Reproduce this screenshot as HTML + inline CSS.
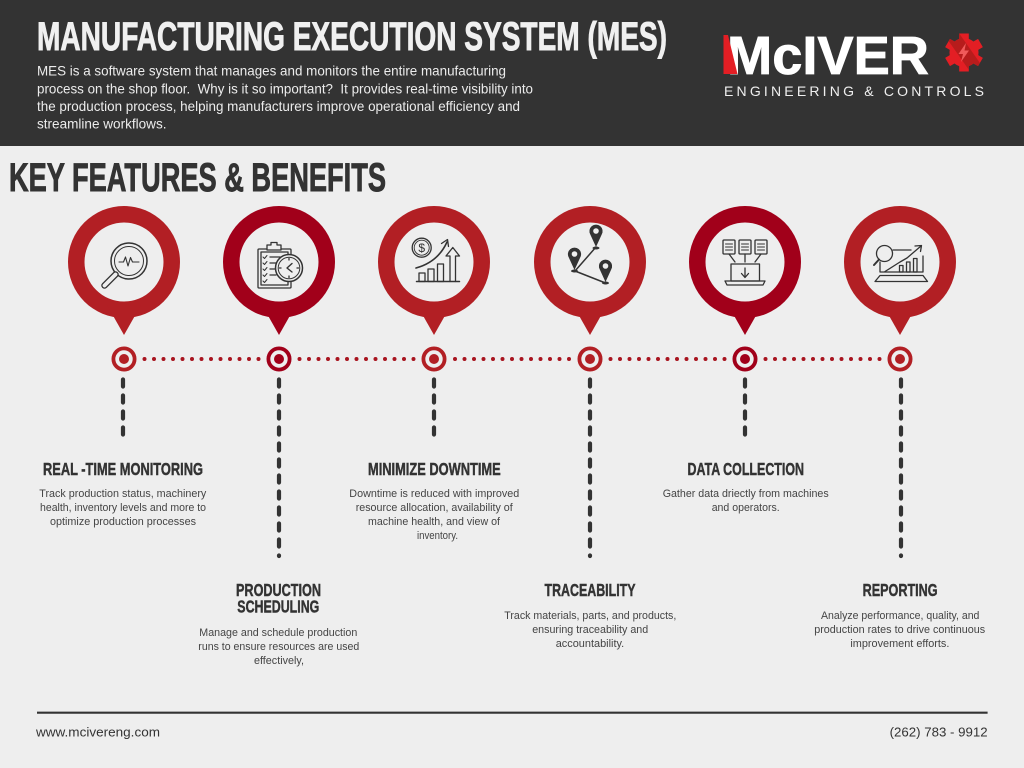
<!DOCTYPE html>
<html>
<head>
<meta charset="utf-8">
<style>
html,body{margin:0;padding:0;background:#eeeeee;}
svg{display:block;}
.h{font-family:"Liberation Sans Narrow","Liberation Sans","DejaVu Sans Condensed",sans-serif;font-weight:bold;}
.b{font-family:"Liberation Sans","DejaVu Sans",sans-serif;}
.t{font-family:"Liberation Sans Narrow","Liberation Sans",sans-serif;font-weight:bold;font-size:17.5px;fill:#333;stroke:#333;stroke-width:0.45;}
.d{font-family:"Liberation Sans","DejaVu Sans",sans-serif;font-size:11px;fill:#444;}
.ic{fill:none;stroke:#333;stroke-width:1.3;stroke-linecap:round;stroke-linejoin:round;}
</style>
</head>
<body>
<svg width="1024" height="768" viewBox="0 0 1024 768" xmlns="http://www.w3.org/2000/svg">
<rect x="0" y="0" width="1024" height="768" fill="#eeeeee"/>
<!-- Header -->
<rect x="0" y="0" width="1024" height="146" fill="#333333"/>
<text class="h" x="37" y="50" font-size="40" fill="#f0f0f0" stroke="#f0f0f0" stroke-width="0.9" textLength="630" lengthAdjust="spacingAndGlyphs">MANUFACTURING EXECUTION SYSTEM (MES)</text>
<g class="b" font-size="14" fill="#ececec">
<text x="37" y="75.5" textLength="469" lengthAdjust="spacingAndGlyphs">MES is a software system that manages and monitors the entire manufacturing</text>
<text x="37" y="93.3" textLength="496" lengthAdjust="spacingAndGlyphs" xml:space="preserve">process on the shop floor.  Why is it so important?  It provides real-time visibility into</text>
<text x="37" y="111" textLength="483" lengthAdjust="spacingAndGlyphs">the production process, helping manufacturers improve operational efficiency and</text>
<text x="37" y="128.7" textLength="129.5" lengthAdjust="spacingAndGlyphs">streamline workflows.</text>
</g>
<!-- Logo -->
<text x="727" y="74" font-family="Liberation Sans, sans-serif" font-weight="bold" font-size="53.5" fill="#ffffff" stroke="#ffffff" stroke-width="0.8" textLength="202" lengthAdjust="spacingAndGlyphs">McIVER</text>
<polygon points="723.5,35 728,35 737.5,74 723.5,74" fill="#e31e24"/>
<text x="724" y="96" font-family="Liberation Sans, sans-serif" font-size="14" fill="#efefef" textLength="260" lengthAdjust="spacing">ENGINEERING &amp; CONTROLS</text>
<defs>
<clipPath id="gc">
<circle cx="964" cy="52.5" r="14.5"/>
<rect x="-4.8" y="-19" width="9.6" height="8.5" transform="translate(964 52.5)"/>
<rect x="-4.8" y="-19" width="9.6" height="8.5" transform="translate(964 52.5) rotate(60)"/>
<rect x="-4.8" y="-19" width="9.6" height="8.5" transform="translate(964 52.5) rotate(120)"/>
<rect x="-4.8" y="-19" width="9.6" height="8.5" transform="translate(964 52.5) rotate(180)"/>
<rect x="-4.8" y="-19" width="9.6" height="8.5" transform="translate(964 52.5) rotate(240)"/>
<rect x="-4.8" y="-19" width="9.6" height="8.5" transform="translate(964 52.5) rotate(300)"/>
</clipPath>
</defs>
<g clip-path="url(#gc)">
<rect x="940" y="30" width="50" height="46" fill="#e31e24"/>
<rect x="958" y="26" width="13" height="56" fill="#b71c1c" transform="rotate(-35 964 52.5)"/>
</g>
<polygon points="966,43 958.5,54 963,54 961,62 969,50.5 964.5,50.5" fill="#f15a5a"/>

<!-- Section title -->
<text class="h" x="9" y="191" font-size="40" fill="#333" stroke="#333" stroke-width="0.9" textLength="377" lengthAdjust="spacingAndGlyphs">KEY FEATURES &amp; BENEFITS</text>

<!-- Pins -->
<g>
<circle cx="124" cy="262" r="56" fill="#b21f24"/><polygon points="107,305 141,305 124,335" fill="#b21f24"/><circle cx="124" cy="262" r="39.5" fill="#eeeeee"/>
<circle cx="279" cy="262" r="56" fill="#a1001a"/><polygon points="262,305 296,305 279,335" fill="#a1001a"/><circle cx="279" cy="262" r="39.5" fill="#eeeeee"/>
<circle cx="434" cy="262" r="56" fill="#b21f24"/><polygon points="417,305 451,305 434,335" fill="#b21f24"/><circle cx="434" cy="262" r="39.5" fill="#eeeeee"/>
<circle cx="590" cy="262" r="56" fill="#b21f24"/><polygon points="573,305 607,305 590,335" fill="#b21f24"/><circle cx="590" cy="262" r="39.5" fill="#eeeeee"/>
<circle cx="745" cy="262" r="56" fill="#a1001a"/><polygon points="728,305 762,305 745,335" fill="#a1001a"/><circle cx="745" cy="262" r="39.5" fill="#eeeeee"/>
<circle cx="900" cy="262" r="56" fill="#b21f24"/><polygon points="883,305 917,305 900,335" fill="#b21f24"/><circle cx="900" cy="262" r="39.5" fill="#eeeeee"/>
</g>

<!-- Icon 1: magnifier with pulse -->
<g class="ic">
<circle cx="129" cy="261" r="18" stroke-width="1.5"/>
<circle cx="129" cy="261" r="14.5" stroke-width="1"/>
<polyline points="119,262 123.5,262 125.5,257 128,266 130.5,257.5 132.5,262 139,262" stroke-width="1.1"/>
<line x1="115.5" y1="274.5" x2="104.5" y2="285.5" stroke-width="6.5"/>
<line x1="115.5" y1="274.5" x2="104.5" y2="285.5" stroke="#eeeeee" stroke-width="3.8"/>
</g>

<!-- Icon 2: clipboard with clock -->
<g class="ic">
<rect x="258" y="249" width="33" height="39" rx="1"/>
<rect x="261" y="252" width="27" height="33"/>
<path d="M267,250 L267,245 L271,245 L271,242.5 L277,242.5 L277,245 L281,245 L281,250 Z" fill="#eeeeee"/>
<polyline points="263,257 264.5,258.5 267,255.5" stroke-width="1"/>
<polyline points="263,263 264.5,264.5 267,261.5" stroke-width="1"/>
<polyline points="263,269 264.5,270.5 267,267.5" stroke-width="1"/>
<polyline points="263,275 264.5,276.5 267,273.5" stroke-width="1"/>
<polyline points="263,281 264.5,282.5 267,279.5" stroke-width="1"/>
<line x1="270" y1="257" x2="280" y2="257"/><line x1="270" y1="263" x2="278" y2="263"/><line x1="270" y1="269" x2="276" y2="269"/><line x1="270" y1="275" x2="276" y2="275"/>
<circle cx="289" cy="268" r="13.5" fill="#eeeeee" stroke-width="1.5"/>
<circle cx="289" cy="268" r="10.8" stroke-width="1"/>
<polyline points="292,263.5 287,268 292,272" stroke-width="1.4"/>
<line x1="289" y1="258.5" x2="289" y2="260"/><line x1="289" y1="276" x2="289" y2="277.5"/><line x1="279.5" y1="268" x2="281" y2="268"/><line x1="297" y1="268" x2="298.5" y2="268"/>
</g>

<!-- Icon 3: dollar + growth chart -->
<g class="ic">
<circle cx="421.7" cy="247.7" r="9.5"/>
<circle cx="421.7" cy="247.7" r="7.5" stroke-width="0.9"/>
<text x="421.7" y="252" font-family="Liberation Sans, sans-serif" font-size="12" fill="#333" stroke="none" text-anchor="middle">$</text>
<path d="M416,268 Q438,262 447,242" stroke-width="1.6"/>
<polyline points="441.5,243.5 447.5,239.5 448.5,246.5"/>
<rect x="419" y="273" width="6" height="8.5"/>
<rect x="428" y="269" width="6" height="12.5"/>
<rect x="437.5" y="264" width="6" height="17.5"/>
<path d="M450,281.5 L450,256 L446,256 L452.8,247.5 L459.5,256 L455.5,256 L455.5,281.5"/>
<line x1="416.5" y1="281.5" x2="459.5" y2="281.5" stroke-width="1.5"/>
</g>

<!-- Icon 4: location pins -->
<g>
<line x1="575" y1="271" x2="596" y2="247" stroke="#333" stroke-width="1.5"/>
<line x1="575" y1="271" x2="605.5" y2="283" stroke="#333" stroke-width="1.5"/>
<path d="M596,247 L590.3,234.5 A6.6,6.6 0 1 1 601.7,234.5 Z" fill="#333"/>
<circle cx="596" cy="231" r="2.8" fill="#eeeeee"/>
<ellipse cx="596" cy="248" rx="3.5" ry="1.5" fill="#333"/>
<path d="M574.5,270 L568.8,257.5 A6.6,6.6 0 1 1 580.2,257.5 Z" fill="#333"/>
<circle cx="574.5" cy="254" r="2.8" fill="#eeeeee"/>
<ellipse cx="574.5" cy="271" rx="3.5" ry="1.5" fill="#333"/>
<path d="M605.5,282 L599.8,269.5 A6.6,6.6 0 1 1 611.2,269.5 Z" fill="#333"/>
<circle cx="605.5" cy="266" r="2.8" fill="#eeeeee"/>
<ellipse cx="605.5" cy="283" rx="3.5" ry="1.5" fill="#333"/>
</g>

<!-- Icon 5: data collection -->
<g class="ic">
<rect x="723" y="240" width="12" height="14" rx="1"/>
<rect x="739" y="240" width="12" height="14" rx="1"/>
<rect x="755" y="240" width="12" height="14" rx="1"/>
<line x1="725.5" y1="244" x2="732.5" y2="244" stroke-width="1"/><line x1="725.5" y1="247" x2="732.5" y2="247" stroke-width="1"/><line x1="725.5" y1="250" x2="732.5" y2="250" stroke-width="1"/>
<line x1="741.5" y1="244" x2="748.5" y2="244" stroke-width="1"/><line x1="741.5" y1="247" x2="748.5" y2="247" stroke-width="1"/><line x1="741.5" y1="250" x2="748.5" y2="250" stroke-width="1"/>
<line x1="757.5" y1="244" x2="764.5" y2="244" stroke-width="1"/><line x1="757.5" y1="247" x2="764.5" y2="247" stroke-width="1"/><line x1="757.5" y1="250" x2="764.5" y2="250" stroke-width="1"/>
<line x1="729" y1="254" x2="735" y2="262"/><line x1="745" y1="254" x2="745" y2="262"/><line x1="761" y1="254" x2="755" y2="262"/>
<rect x="731" y="264" width="28.5" height="17"/>
<path d="M725,281 L765,281 L763,285 L727,285 Z"/>
<line x1="745" y1="268" x2="745" y2="277"/>
<polyline points="741.5,273.5 745,277.5 748.5,273.5"/>
</g>

<!-- Icon 6: reporting -->
<g class="ic">
<circle cx="884.5" cy="253.5" r="8"/>
<line x1="879" y1="259.5" x2="874" y2="265" stroke-width="2"/>
<line x1="893" y1="250" x2="911" y2="250"/>
<polyline points="885,271.5 900,262 907,258 921,246"/>
<polyline points="915,246 921.5,245.5 920.5,251.5"/>
<rect x="899.5" y="265.5" width="3.5" height="6.5"/>
<rect x="906.5" y="262" width="3.5" height="10"/>
<rect x="913.5" y="258.5" width="3.5" height="13.5"/>
<polyline points="880,262 880,272 923,272 923,256"/>
<path d="M880,275.5 L923,275.5 L927.5,281.5 L875,281.5 Z"/>
</g>

<!-- Targets -->
<g>
<circle cx="124" cy="359" r="10.6" fill="none" stroke="#b21f24" stroke-width="3.8"/><circle cx="124" cy="359" r="5" fill="#b21f24"/>
<circle cx="279" cy="359" r="10.6" fill="none" stroke="#a1001a" stroke-width="3.8"/><circle cx="279" cy="359" r="5" fill="#a1001a"/>
<circle cx="434" cy="359" r="10.6" fill="none" stroke="#b21f24" stroke-width="3.8"/><circle cx="434" cy="359" r="5" fill="#b21f24"/>
<circle cx="590" cy="359" r="10.6" fill="none" stroke="#b21f24" stroke-width="3.8"/><circle cx="590" cy="359" r="5" fill="#b21f24"/>
<circle cx="745" cy="359" r="10.6" fill="none" stroke="#a1001a" stroke-width="3.8"/><circle cx="745" cy="359" r="5" fill="#a1001a"/>
<circle cx="900" cy="359" r="10.6" fill="none" stroke="#b21f24" stroke-width="3.8"/><circle cx="900" cy="359" r="5" fill="#b21f24"/>
</g>

<!-- Dotted connectors -->
<g stroke="#a8141f" stroke-width="4" stroke-linecap="round" stroke-dasharray="0 9.5" fill="none">
<line x1="144.5" y1="359" x2="258.6" y2="359"/>
<line x1="299.5" y1="359" x2="413.6" y2="359"/>
<line x1="455" y1="359" x2="569.1" y2="359"/>
<line x1="610.5" y1="359" x2="724.6" y2="359"/>
<line x1="765.5" y1="359" x2="879.6" y2="359"/>
</g>

<!-- Vertical dashed lines -->
<g stroke="#333" stroke-width="4.2" stroke-linecap="round" stroke-dasharray="7 9" fill="none">
<line x1="123" y1="379.5" x2="123" y2="434.5"/>
<line x1="279" y1="379.5" x2="279" y2="556"/>
<line x1="434" y1="379.5" x2="434" y2="434.5"/>
<line x1="590" y1="379.5" x2="590" y2="556"/>
<line x1="745" y1="379.5" x2="745" y2="434.5"/>
<line x1="901" y1="379.5" x2="901" y2="556"/>
</g>

<!-- Column 1 -->
<text class="t" x="43" y="475" textLength="160" lengthAdjust="spacingAndGlyphs">REAL -TIME MONITORING</text>
<text class="d" x="39.3" y="497" textLength="167" lengthAdjust="spacingAndGlyphs">Track production status, machinery</text>
<text class="d" x="40" y="511" textLength="166" lengthAdjust="spacingAndGlyphs">health, inventory levels and more to</text>
<text class="d" x="50" y="525" textLength="146" lengthAdjust="spacingAndGlyphs">optimize production processes</text>

<!-- Column 2 -->
<text class="t" x="236" y="596" textLength="85" lengthAdjust="spacingAndGlyphs">PRODUCTION</text>
<text class="t" x="237.3" y="612.7" textLength="82" lengthAdjust="spacingAndGlyphs">SCHEDULING</text>
<text class="d" x="199.3" y="636" textLength="158" lengthAdjust="spacingAndGlyphs">Manage and schedule production</text>
<text class="d" x="198.3" y="650" textLength="161" lengthAdjust="spacingAndGlyphs">runs to ensure resources are used</text>
<text class="d" x="254" y="664" textLength="50" lengthAdjust="spacingAndGlyphs">effectively,</text>

<!-- Column 3 -->
<text class="t" x="368" y="475" textLength="132.7" lengthAdjust="spacingAndGlyphs">MINIMIZE DOWNTIME</text>
<text class="d" x="349.3" y="497" textLength="170" lengthAdjust="spacingAndGlyphs">Downtime is reduced with improved</text>
<text class="d" x="355.7" y="511" textLength="157" lengthAdjust="spacingAndGlyphs">resource allocation, availability of</text>
<text class="d" x="368" y="525" textLength="132" lengthAdjust="spacingAndGlyphs">machine health, and view of</text>
<text class="d" x="417" y="539" textLength="41" lengthAdjust="spacingAndGlyphs">inventory.</text>

<!-- Column 4 -->
<text class="t" x="544.5" y="596" textLength="91" lengthAdjust="spacingAndGlyphs">TRACEABILITY</text>
<text class="d" x="504.3" y="619" textLength="172" lengthAdjust="spacingAndGlyphs">Track materials, parts, and products,</text>
<text class="d" x="532.2" y="633" textLength="116" lengthAdjust="spacingAndGlyphs">ensuring traceability and</text>
<text class="d" x="555.7" y="647" textLength="68.5" lengthAdjust="spacingAndGlyphs">accountability.</text>

<!-- Column 5 -->
<text class="t" x="687.5" y="475" textLength="116.5" lengthAdjust="spacingAndGlyphs">DATA COLLECTION</text>
<text class="d" x="662.7" y="497" textLength="166" lengthAdjust="spacingAndGlyphs">Gather data driectly from machines</text>
<text class="d" x="711.7" y="511" textLength="68" lengthAdjust="spacingAndGlyphs">and operators.</text>

<!-- Column 6 -->
<text class="t" x="862.6" y="596" textLength="75" lengthAdjust="spacingAndGlyphs">REPORTING</text>
<text class="d" x="821" y="619" textLength="158.4" lengthAdjust="spacingAndGlyphs">Analyze performance, quality, and</text>
<text class="d" x="814.2" y="633" textLength="171" lengthAdjust="spacingAndGlyphs">production rates to drive continuous</text>
<text class="d" x="850.4" y="647" textLength="99" lengthAdjust="spacingAndGlyphs">improvement efforts.</text>

<!-- Footer -->
<line x1="37" y1="712.7" x2="987.6" y2="712.7" stroke="#333" stroke-width="2.2"/>
<text class="b" x="36" y="736.5" font-size="12.5" fill="#333" textLength="124" lengthAdjust="spacingAndGlyphs">www.mcivereng.com</text>
<text class="b" x="889.6" y="736.5" font-size="12.5" fill="#333" textLength="98" lengthAdjust="spacingAndGlyphs">(262) 783 - 9912</text>
</svg>
</body>
</html>
